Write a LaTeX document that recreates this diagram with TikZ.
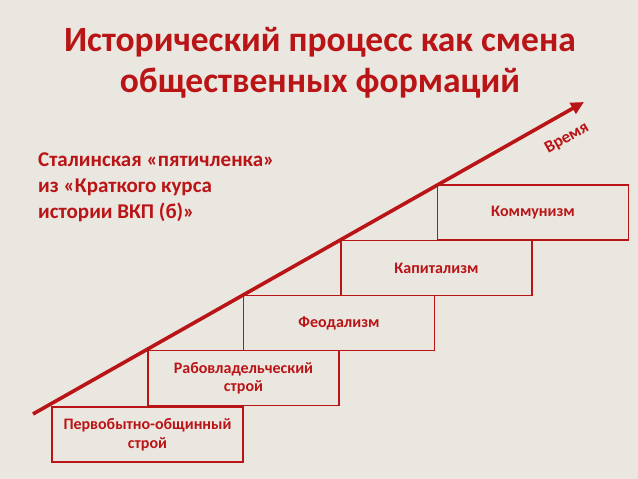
\documentclass[tikz,border=0pt]{standalone}
\usepackage{fontspec}
\setmainfont{Carlito}
\usetikzlibrary{arrows.meta}
\definecolor{bg}{RGB}{234,230,224}
\definecolor{dred}{RGB}{185,20,22}
\tikzset{
  stage/.style={draw=dred, line width=1.8pt, minimum width=191pt, minimum height=55pt,
    inner sep=0pt, text=dred, font=\bfseries\fontsize{16}{18.5}\selectfont, align=center},
  notetext/.style={text=dred, font=\bfseries\fontsize{21}{25.8}\selectfont, anchor=base west, inner sep=0pt},
}
\begin{document}
\begin{tikzpicture}[x=1pt,y=-1pt]
\fill[bg] (0,0) rectangle (638,479);
\useasboundingbox (0,0) rectangle (638,479);
\node[text=dred, font=\bfseries\fontsize{35.5}{41}\selectfont, align=center, anchor=base, inner sep=0pt] (title) at (320,51)
  {Исторический процесс как смена};
\node[text=dred, font=\bfseries\fontsize{35.5}{41}\selectfont, align=center, anchor=base, inner sep=0pt] (title2) at (320,92)
  {общественных формаций};
\node[notetext] (note1) at (38,166) {Сталинская «пятичленка»};
\node[notetext] (note2) at (38,192) {из «Краткого курса};
\node[notetext] (note3) at (38,218) {истории ВКП (б)»};
\node[stage] (s1) at (147.5,434.5) {Первобытно-общинный\\строй};
\node[stage] (s2) at (243.5,378) {Рабовладельческий\\строй};
\node[stage] (s3) at (339,323) {Феодализм};
\node[stage] (s4) at (436.5,268) {Капитализм};
\node[stage] (s5) at (533,212.5) {Коммунизм};
\coordinate (t0) at (33,414);
\coordinate (t1) at (584,102);
\draw[dred, line width=3.6pt, -{Triangle[length=13pt,width=12pt]}] (t0) -- (t1);
\node[text=dred, font=\bfseries\fontsize{17}{18}\selectfont, rotate=29.5, inner sep=0pt] (time) at (567,138) {Время};
\end{tikzpicture}
\end{document}
